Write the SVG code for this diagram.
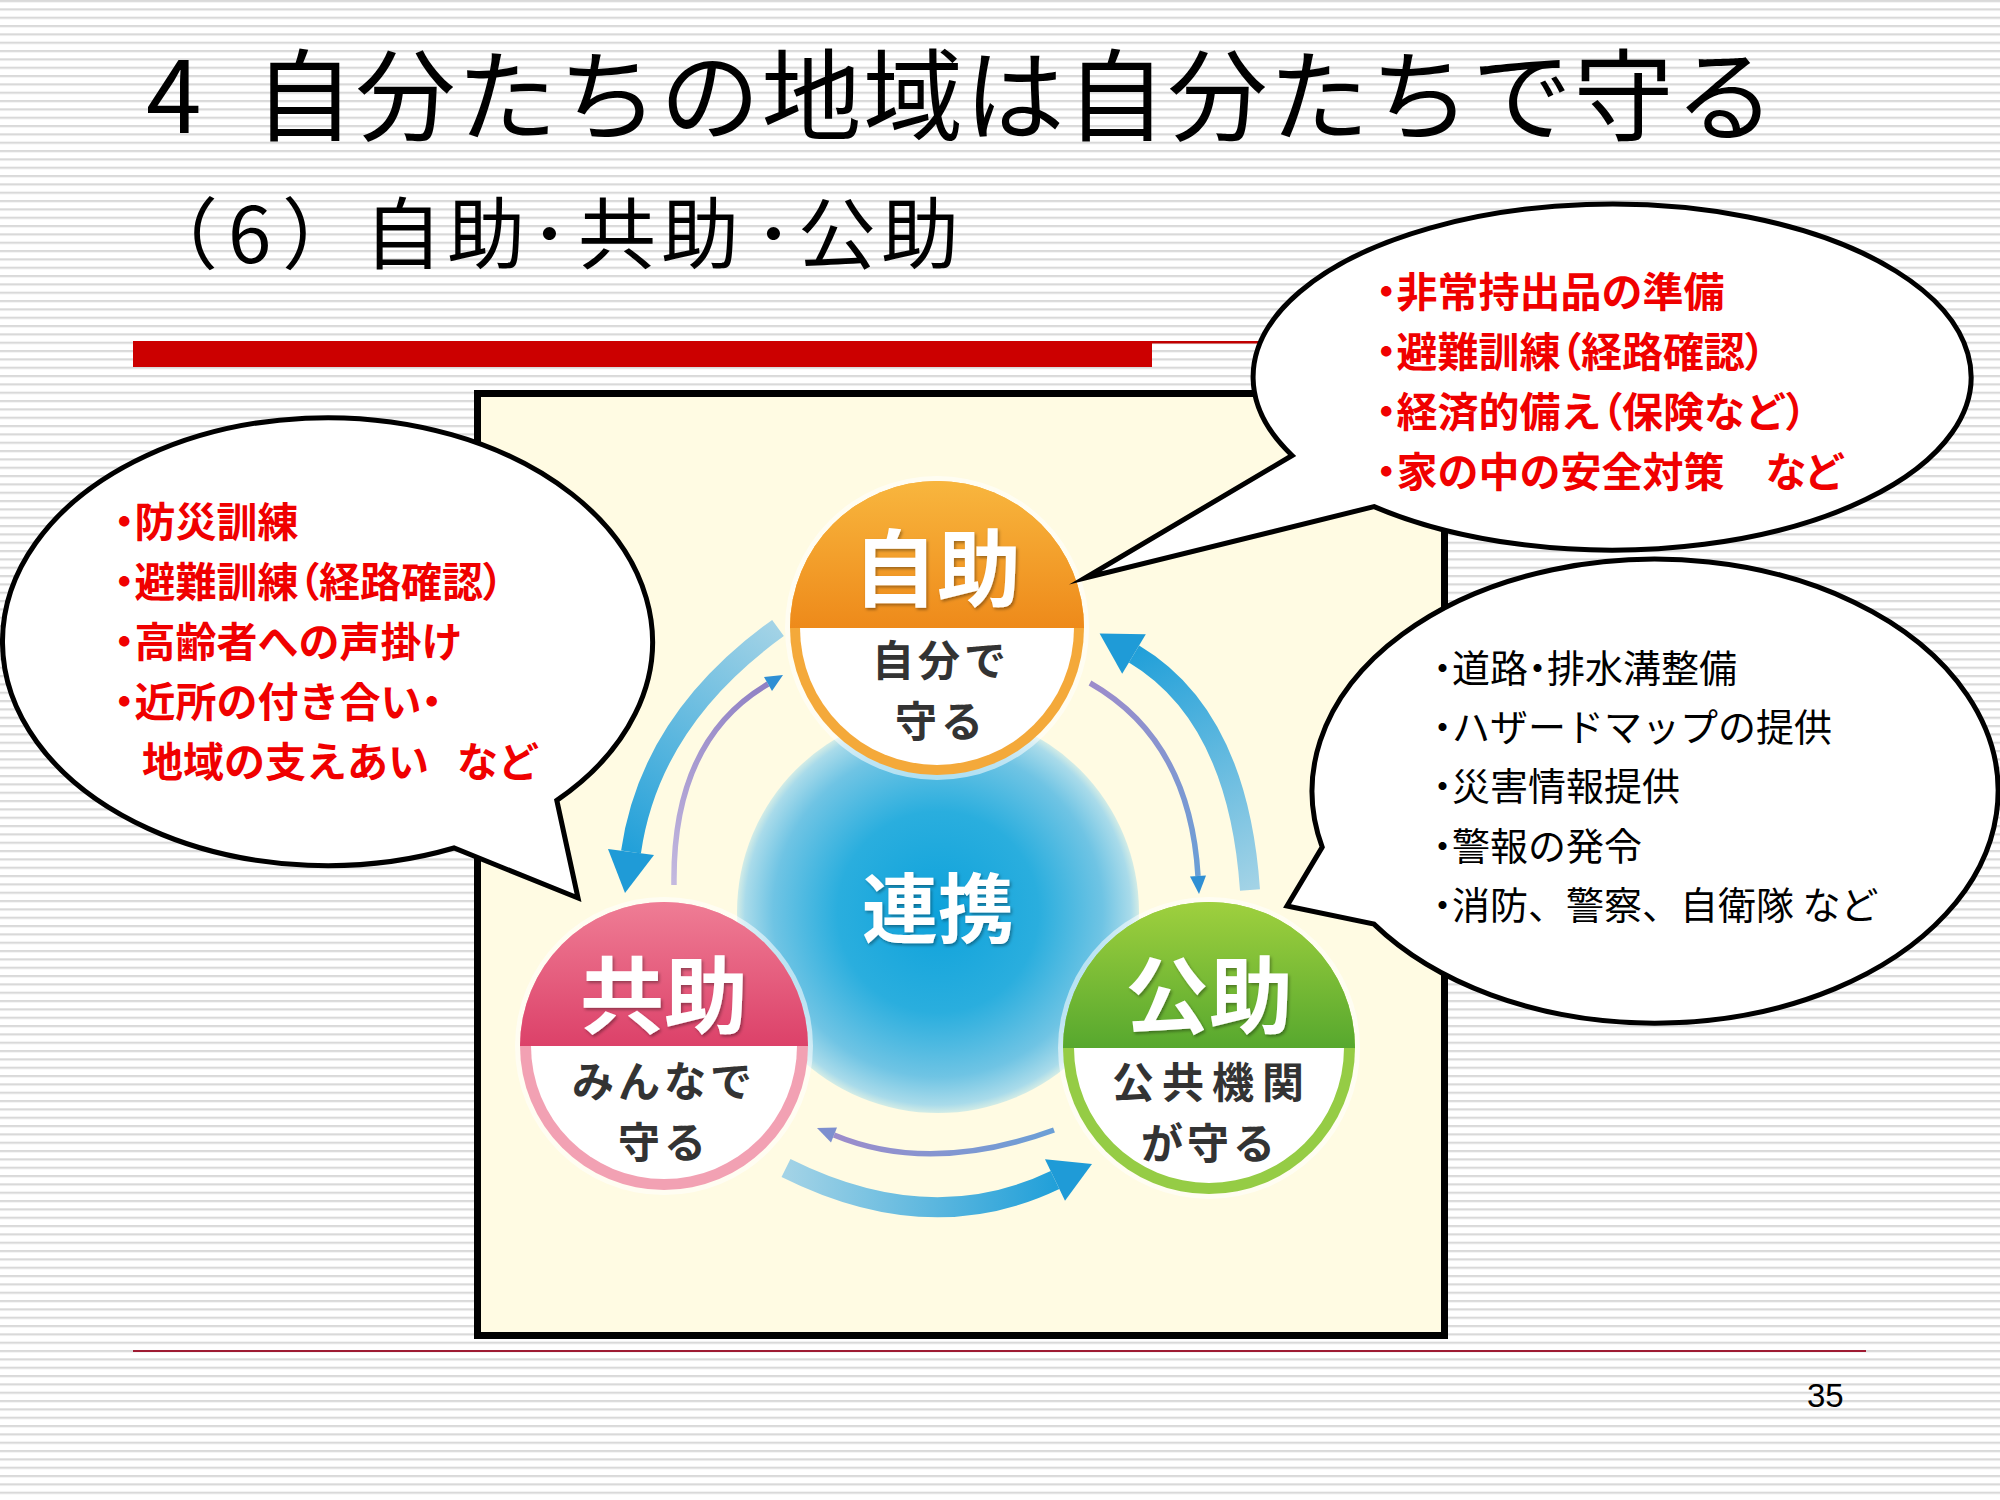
<svg xmlns="http://www.w3.org/2000/svg" width="2000" height="1500" viewBox="0 0 2000 1500">
<defs>
<style>
.cjk{font-family:"Noto Sans CJK JP","Noto Sans",sans-serif}
.title{font-size:100px;fill:#000;letter-spacing:1.5px}
.sub{font-size:78px;fill:#000;letter-spacing:5px}
.red{font-size:41px;font-weight:bold;fill:#f00000}
.blk{font-size:38px;fill:#000}
.pa{font-feature-settings:"palt"}
.cap{font-size:84px;font-weight:bold;fill:#fff;text-anchor:middle}
.lbl{font-size:42px;font-weight:bold;fill:#333;text-anchor:middle;letter-spacing:4px}
.bubble{fill:#fff;stroke:#000;stroke-width:5;stroke-linejoin:miter;stroke-miterlimit:12}
.big{fill:none;stroke-width:20}
.thin{fill:none;stroke-width:5.5}
</style>
<pattern id="stripes" patternUnits="userSpaceOnUse" width="2000" height="8.3333">
<rect x="0" y="0" width="2000" height="2.2" fill="#d9d9d9"/>
</pattern>
<radialGradient id="blue" cx="0.5" cy="0.5" r="0.5">
<stop offset="0" stop-color="#0ea2db"/>
<stop offset="0.5" stop-color="#2aaede"/>
<stop offset="0.82" stop-color="#6fc4e4"/>
<stop offset="0.96" stop-color="#a9dbea"/>
<stop offset="1" stop-color="#d3ece6"/>
</radialGradient>
<linearGradient id="gOr" x1="0" y1="0" x2="0" y2="1">
<stop offset="0" stop-color="#f8b63e"/>
<stop offset="1" stop-color="#ee8a1a"/>
</linearGradient>
<linearGradient id="gPk" x1="0" y1="0" x2="0" y2="1">
<stop offset="0" stop-color="#ef7d95"/>
<stop offset="1" stop-color="#dc4169"/>
</linearGradient>
<linearGradient id="gGr" x1="0" y1="0" x2="0" y2="1">
<stop offset="0" stop-color="#9fd03e"/>
<stop offset="1" stop-color="#57a82e"/>
</linearGradient>
<linearGradient id="gA" gradientUnits="userSpaceOnUse" x1="778" y1="628" x2="631" y2="852">
<stop offset="0" stop-color="#a3d3e6"/><stop offset="1" stop-color="#22a0d9"/>
</linearGradient>
<linearGradient id="gC" gradientUnits="userSpaceOnUse" x1="1250" y1="890" x2="1134" y2="654">
<stop offset="0" stop-color="#a3d3e6"/><stop offset="1" stop-color="#22a0d9"/>
</linearGradient>
<linearGradient id="gE" gradientUnits="userSpaceOnUse" x1="786" y1="1168" x2="1055" y2="1180">
<stop offset="0" stop-color="#a3d3e6"/><stop offset="1" stop-color="#22a0d9"/>
</linearGradient>
<linearGradient id="gB" gradientUnits="userSpaceOnUse" x1="674" y1="885" x2="768" y2="684">
<stop offset="0" stop-color="#c4b9df"/><stop offset="1" stop-color="#8f80c4"/>
</linearGradient>
<linearGradient id="gD" gradientUnits="userSpaceOnUse" x1="1090" y1="683" x2="1198" y2="876">
<stop offset="0" stop-color="#9d8ccb"/><stop offset="1" stop-color="#6a9fd6"/>
</linearGradient>
<linearGradient id="gF" gradientUnits="userSpaceOnUse" x1="1054" y1="1130" x2="834" y2="1135">
<stop offset="0" stop-color="#6a9fd6"/><stop offset="1" stop-color="#9d8ccb"/>
</linearGradient>
<filter id="ts" x="-20%" y="-20%" width="140%" height="140%">
<feDropShadow dx="1.5" dy="2" stdDeviation="1.5" flood-color="#000" flood-opacity="0.35"/>
</filter>
</defs>

<rect width="2000" height="1500" fill="#fff"/>
<rect width="2000" height="1500" fill="url(#stripes)"/>

<g id="title">
<text class="cjk title" x="146" y="133">4 <tspan x="254">自分たちの地域は自分たちで守る</tspan></text>
<text class="cjk sub" x="140" y="263">（<tspan x="228">6</tspan><tspan x="282">）</tspan><tspan x="364">自助</tspan><tspan x="530">･</tspan><tspan x="578">共助</tspan><tspan x="754">･</tspan><tspan x="798">公助</tspan></text>
</g>

<g id="rules">
<rect x="133" y="341" width="1019" height="26" fill="#cc0000"/>
<rect x="1152" y="341" width="150" height="2.5" fill="#c00000"/>
<rect x="133" y="1350" width="1733" height="2" fill="#9e1b32"/>
</g>

<g id="frame">
<rect x="477.5" y="393.5" width="967" height="942" fill="#fffbe3" stroke="#000" stroke-width="7"/>
</g>

<g id="renkei">
<circle cx="938" cy="912" r="201" fill="url(#blue)"/>
<text class="cjk cap" x="938" y="937" filter="url(#ts)" style="font-size:76px">連携</text>
</g>

<g id="connectors">
<path class="big" d="M 778 628 Q 650 720 631 852" stroke="url(#gA)"/>
<polygon points="625,893 654,855 608,849" fill="#1f9bd7"/>
<path class="thin" d="M 674 885 Q 672 740 768 684" stroke="url(#gB)"/>
<polygon points="783,675 772,691 764,677" fill="#2f8fd4"/>
<path class="big" d="M 1250 890 Q 1238 716 1134 654" stroke="url(#gC)"/>
<polygon points="1099.6,633.5 1145.8,634.2 1122.2,673.8" fill="#1f9bd7"/>
<path class="thin" d="M 1090 683 Q 1190 740 1198 876" stroke="url(#gD)"/>
<polygon points="1199,894 1206,875.5 1190,876.5" fill="#2f8fd4"/>
<path class="big" d="M 786 1168 Q 930 1240 1055 1180" stroke="url(#gE)"/>
<polygon points="1092,1164 1065,1200.7 1045,1159.3" fill="#1f9bd7"/>
<path class="thin" d="M 1054 1130 Q 930 1175 834 1135" stroke="url(#gF)"/>
<polygon points="817,1128 837,1127.5 831,1142.5" fill="#7d8fcf"/>
</g>

<g id="jijo">
<circle cx="937" cy="628" r="152" fill="#fff" opacity="0.55"/>
<circle cx="937" cy="628" r="147" fill="#f4a93a"/>
<path d="M 790 628 A 147 147 0 0 1 1084 628 Z" fill="url(#gOr)"/>
<path d="M 800 628 A 137 137 0 0 0 1074 628 Z" fill="#fff"/>
<text class="cjk cap" x="937" y="600" filter="url(#ts)">自助</text>
<text class="cjk lbl" x="941" y="676">自分で</text>
<text class="cjk lbl" x="941" y="737">守る</text>
</g>

<g id="kyojo">
<circle cx="664" cy="1046" r="149" fill="#fff" opacity="0.55"/>
<circle cx="664" cy="1046" r="144" fill="#f2a1b3"/>
<path d="M 520 1046 A 144 144 0 0 1 808 1046 Z" fill="url(#gPk)"/>
<path d="M 531 1046 A 133 133 0 0 0 797 1046 Z" fill="#fff"/>
<text class="cjk cap" x="664" y="1027" filter="url(#ts)">共助</text>
<text class="cjk lbl" x="664" y="1097">みんなで</text>
<text class="cjk lbl" x="664" y="1158">守る</text>
</g>

<g id="kojo">
<circle cx="1209" cy="1048" r="151" fill="#fff" opacity="0.55"/>
<circle cx="1209" cy="1048" r="146" fill="#95cc45"/>
<path d="M 1063 1048 A 146 146 0 0 1 1355 1048 Z" fill="url(#gGr)"/>
<path d="M 1074 1048 A 135 135 0 0 0 1344 1048 Z" fill="#fff"/>
<text class="cjk cap" x="1209" y="1027" filter="url(#ts)">公助</text>
<text class="cjk lbl" x="1212" y="1098" style="letter-spacing:8px">公共機関</text>
<text class="cjk lbl" x="1210" y="1159">が守る</text>
</g>

<g id="bubble-left">
<path class="bubble" d="M 556.8 800.4 L 578 898 L 454 848 A 325 224 0 1 1 556.8 800.4 Z"/>
<text class="cjk red" x="114" y="537"><tspan class="pa">・</tspan>防災訓練</text>
<text class="cjk red" x="114" y="597"><tspan class="pa">・</tspan>避難訓練<tspan class="pa">（</tspan>経路確認<tspan class="pa">）</tspan></text>
<text class="cjk red" x="114" y="657"><tspan class="pa">・</tspan>高齢者への声掛け</text>
<text class="cjk red" x="114" y="717"><tspan class="pa">・</tspan>近所の付き合い<tspan class="pa">・</tspan></text>
<text class="cjk red" x="142" y="777" style="white-space:pre">地域の支えあい   など</text>
</g>

<g id="bubble-top">
<path class="bubble" d="M 1292.1 455.5 L 1085 578 L 1374.1 506.6 A 359 173 0 1 0 1292.1 455.5 Z"/>
<text class="cjk red" x="1376" y="307"><tspan class="pa">・</tspan>非常持出品の準備</text>
<text class="cjk red" x="1376" y="367"><tspan class="pa">・</tspan>避難訓練<tspan class="pa">（</tspan>経路確認<tspan class="pa">）</tspan></text>
<text class="cjk red" x="1376" y="427"><tspan class="pa">・</tspan>経済的備え<tspan class="pa">（</tspan>保険など<tspan class="pa">）</tspan></text>
<text class="cjk red" x="1376" y="487"><tspan class="pa">・</tspan>家の中の安全対策　<tspan class="pa">など</tspan></text>
</g>

<g id="bubble-right">
<path class="bubble" d="M 1322.2 847.1 L 1287 906 L 1374 924.1 A 343 232 0 1 0 1322.2 847.1 Z"/>
<text class="cjk blk" x="1433" y="682"><tspan class="pa">・</tspan>道路<tspan class="pa">・</tspan>排水溝整備</text>
<text class="cjk blk" x="1433" y="741"><tspan class="pa">・</tspan>ハザードマップの提供</text>
<text class="cjk blk" x="1433" y="800"><tspan class="pa">・</tspan>災害情報提供</text>
<text class="cjk blk" x="1433" y="860"><tspan class="pa">・</tspan>警報の発令</text>
<text class="cjk blk" x="1433" y="919"><tspan class="pa">・</tspan>消防、警察、自衛隊 など</text>
</g>

<g id="page">
<text x="1807" y="1407" font-family="Liberation Sans, Arial, sans-serif" font-size="33" fill="#000">35</text>
</g>
</svg>
